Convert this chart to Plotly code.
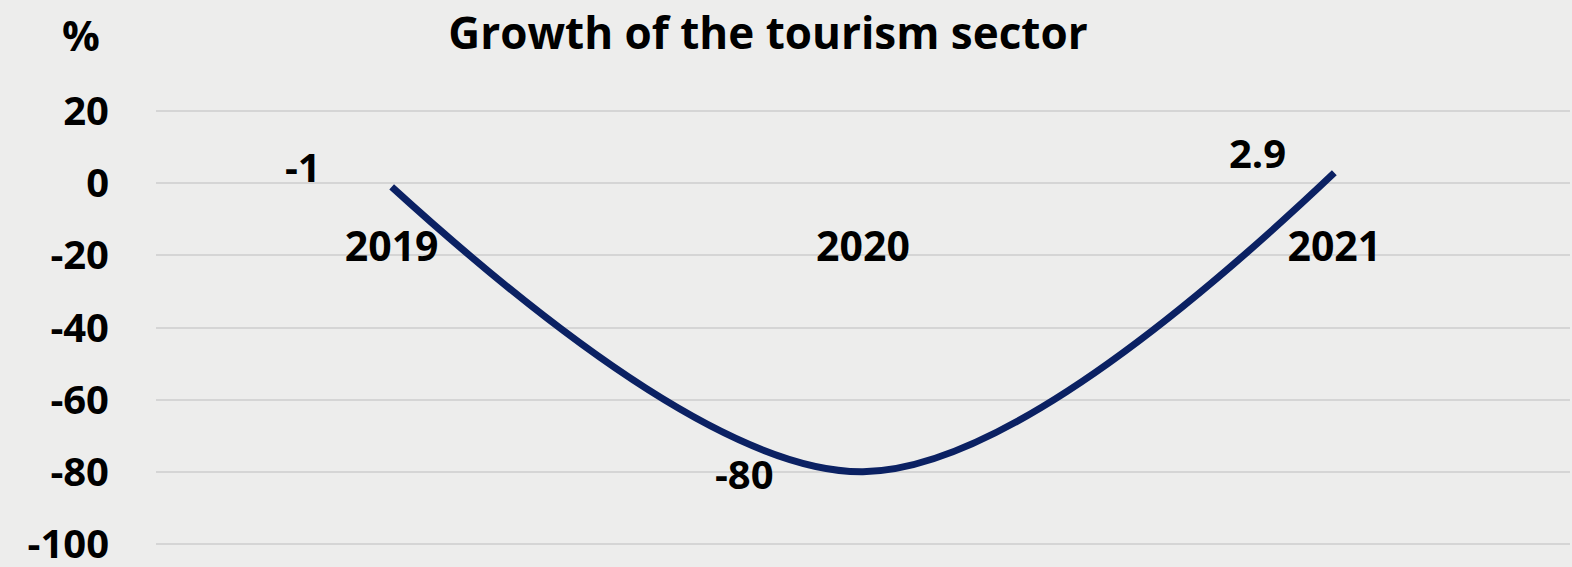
import plotly.graph_objects as go

# Tourism sector growth, percent
years = ["2019", "2020", "2021"]
growth = [-1, -80, 2.9]
y_ticks = [20, 0, -20, -40, -60, -80, -100]

# label offsets (pixels) for each value label
label_dx = [-89, -119, -77]
label_dy = [20, -2, 20]

FONT = "Open Sans"
INK = "#000000"
NAVY = "#0B2163"
BG = "#EDEDEC"
GRID = "#D5D5D5"

W, H = 1572, 567
ML, MR, MT, MB = 156, 2, 109, 21
plot_w = W - ML - MR
plot_h = H - MT - MB

fig = go.Figure()
fig.add_trace(go.Scatter(
    x=years, y=growth, mode="lines",
    line=dict(color=NAVY, width=7, shape="spline", smoothing=1.0),
    hoverinfo="x+y", showlegend=False,
))

# value labels, placed by category index on the category axis
for i, (v, dx, dy) in enumerate(zip(growth, label_dx, label_dy)):
    fig.add_annotation(
        x=i, y=v, xref="x", yref="y", text=f"<b>{v:g}</b>",
        showarrow=False, xshift=dx, yshift=dy,
        font=dict(family=FONT, size=40, color=INK),
    )

# unit label above the value axis
fig.add_annotation(
    x=(81 - ML) / plot_w, y=(H - MB - 34) / plot_h,
    xref="paper", yref="paper", text="<b>%</b>",
    xanchor="center", yanchor="middle",
    showarrow=False, font=dict(family=FONT, size=42, color=INK),
)

y_min, y_max = -100, 20
pad = 0.6
zero_pos = (0 - (y_min - pad)) / (y_max + pad - (y_min - pad))

fig.update_layout(
    width=W, height=H,
    paper_bgcolor=BG, plot_bgcolor=BG,
    margin=dict(l=ML, r=MR, t=MT, b=MB, autoexpand=False),
    title=dict(
        text="<b>Growth of the tourism sector</b>",
        x=768 / W, xref="container", xanchor="center",
        y=1 - 34 / H, yref="container", yanchor="middle",
        font=dict(family=FONT, size=44, color=INK),
    ),
    xaxis=dict(
        type="category", range=[-0.5, 2.5],
        anchor="free", position=zero_pos, automargin=False,
        tickvals=years, ticktext=[f"<b>{y}</b>" for y in years],
        showgrid=False, zeroline=False, showline=False, ticks="",
        tickfont=dict(family=FONT, size=41, color=INK),
        ticklabelstandoff=36,
    ),
    yaxis=dict(
        range=[y_min - pad, y_max + pad], tickvals=y_ticks, automargin=False,
        ticktext=[f"<b>{t}</b>" for t in y_ticks],
        showgrid=True, gridcolor=GRID, gridwidth=2,
        zeroline=False, showline=False, ticks="",
        tickfont=dict(family=FONT, size=40, color=INK),
        ticklabelstandoff=46, ticklabeloverflow="allow",
    ),
)

fig.write_html("out.html")
